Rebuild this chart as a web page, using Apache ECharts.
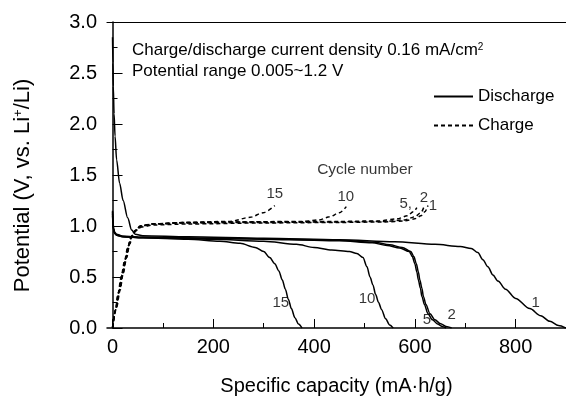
<!DOCTYPE html>
<html>
<head>
<meta charset="utf-8">
<script src="https://cdn.jsdelivr.net/npm/echarts@6/dist/echarts.min.js"></script>
<style>
  html, body { margin: 0; padding: 0; background: #fff; }
  #chart { width: 566px; height: 397px; }
</style>
</head>
<body>
<div id="chart"></div>
<script>
// capacity (mA·h/g), potential (V)
const discharge1 = [[0,2.85],[0.7,2.6],[1.5,2.37],[3,2.1],[5,1.88],[8,1.65],[14,1.42],[21,1.25],[30,1.08],[38,0.96],[45,0.92],[60,0.905],[150,0.895],[300,0.88],[450,0.865],[560,0.845],[640,0.82],[690,0.8],[712,0.78],[725,0.74],[735,0.67],[745,0.6],[755,0.52],[765,0.46],[780,0.38],[800,0.29],[828,0.19],[850,0.12],[868,0.065],[885,0.025],[900,0]];
const discharge2 = [[0,1.15],[1,1.04],[2,0.98],[4,0.94],[8,0.92],[20,0.9],[60,0.89],[200,0.88],[350,0.87],[450,0.86],[520,0.84],[550,0.815],[575,0.79],[592,0.75],[598,0.7],[603,0.63],[607,0.55],[610,0.47],[614,0.39],[617,0.31],[622,0.23],[630,0.14],[640,0.08],[650,0.045],[662,0.015],[673,0]];
const discharge5 = [[0,1.14],[1,1.03],[2,0.97],[4,0.93],[8,0.915],[20,0.9],[60,0.89],[200,0.88],[350,0.865],[450,0.855],[515,0.835],[545,0.81],[570,0.785],[589,0.75],[595,0.7],[600,0.63],[604,0.55],[607,0.47],[611,0.39],[614,0.31],[619,0.23],[626,0.14],[635,0.08],[645,0.04],[654,0.015],[662,0]];
const discharge10 = [[0,1.12],[1,1.02],[2,0.97],[4,0.93],[8,0.91],[20,0.895],[60,0.885],[200,0.87],[300,0.85],[365,0.82],[400,0.79],[435,0.765],[470,0.75],[485,0.73],[497,0.69],[505,0.6],[511,0.5],[517,0.42],[522,0.33],[528,0.25],[534,0.18],[542,0.09],[550,0.03],[557,0]];
const discharge15 = [[0,1.1],[1,1.0],[2,0.96],[4,0.93],[8,0.91],[20,0.895],[60,0.885],[150,0.87],[213,0.85],[253,0.83],[283,0.79],[300,0.75],[312,0.69],[322,0.63],[330,0.56],[337,0.47],[343,0.38],[349,0.28],[355,0.19],[362,0.1],[369,0.04],[376,0]];

const charge1 = [[0,0.01],[8,0.2],[15,0.37],[21,0.53],[28,0.69],[34,0.82],[40,0.91],[48,0.96],[58,0.99],[80,1.01],[150,1.02],[300,1.03],[450,1.035],[540,1.04],[580,1.05],[600,1.07],[612,1.1],[620,1.14],[626,1.2]];
const charge2 = [[0,0],[7,0.19],[14,0.37],[20,0.53],[27,0.69],[33,0.82],[39,0.91],[47,0.96],[58,1.0],[80,1.02],[150,1.03],[300,1.035],[450,1.04],[540,1.045],[580,1.06],[600,1.09],[612,1.13],[619,1.2]];
const charge5 = [[0,0.01],[6,0.18],[13,0.36],[19,0.52],[26,0.68],[32,0.81],[38,0.9],[46,0.96],[56,1.0],[80,1.02],[150,1.035],[300,1.04],[450,1.045],[530,1.05],[565,1.07],[585,1.1],[597,1.14],[604,1.18]];
const charge10 = [[0,0],[6,0.17],[12,0.35],[18,0.51],[25,0.67],[31,0.8],[37,0.89],[45,0.95],[56,1.0],[80,1.02],[150,1.035],[250,1.04],[378,1.045],[410,1.06],[431,1.09],[450,1.13],[464,1.19]];
const charge15 = [[0,0],[5,0.16],[11,0.34],[17,0.5],[24,0.66],[30,0.79],[36,0.88],[44,0.95],[55,1.0],[80,1.02],[150,1.035],[233,1.045],[273,1.085],[299,1.13],[322,1.2]];

// cycle number labels placed at data coordinates
const chargeLabels = [[322,1.32,'15'],[463,1.29,'10'],[582,1.22,'5,'],[618,1.28,'2'],[636,1.2,'1']];
const dischargeLabels = [[334,0.245,'15'],[505,0.29,'10'],[624,0.08,'5'],[673,0.13,'2'],[840,0.245,'1']];
const cycleTitle = [501,1.55,'Cycle number'];

const xTicks = [0,200,400,600,800];
const xMinorTicks = [100,300,500,700];

const FONT = '"Liberation Sans", Arial, sans-serif';
const chart = echarts.init(document.getElementById('chart'));

const lineSeries = (name, data, dashed) => ({
  name,
  type: 'line',
  data,
  symbol: 'none',
  smooth: 0.3,
  smoothMonotone: 'x',
  lineStyle: { color: '#000', width: 1.5, type: dashed ? [4, 3] : 'solid' },
  itemStyle: { color: '#000' },
  z: 3
});

const labelData = chargeLabels.concat(dischargeLabels).map(d => ({ value: [d[0], d[1]], name: d[2] }));
labelData.push({ value: [cycleTitle[0], cycleTitle[1]], name: cycleTitle[2], label: { fontSize: 15.5 } });

chart.setOption({
  animation: false,
  textStyle: { fontFamily: FONT },
  grid: [
    { left: 107, right: 0, top: 22, bottom: 69, outerBoundsMode: 'none', containLabel: false },
    { left: 107, right: 0, top: 22, bottom: 69, outerBoundsMode: 'none', containLabel: false }
  ],
  legend: {
    data: ['Discharge', 'Charge'],
    orient: 'vertical',
    left: 428,
    top: 83,
    itemWidth: 39,
    itemHeight: 16,
    itemGap: 12,
    itemStyle: { color: 'rgba(0,0,0,0)', borderWidth: 0, opacity: 0 },
    textStyle: { fontSize: 17, color: '#000', fontFamily: FONT }
  },
  xAxis: [
    {
      type: 'value', gridIndex: 0, min: -11, max: 900,
      name: 'Specific capacity (mA\u00b7h/g)',
      nameLocation: 'middle', nameGap: 48,
      nameTextStyle: { fontSize: 20, color: '#000', fontFamily: FONT },
      axisLine: { show: true, lineStyle: { color: '#000', width: 1.5 } },
      axisTick: { show: true, inside: true, length: 9, customValues: xTicks, lineStyle: { color: '#000', width: 1 } },
      axisLabel: { customValues: xTicks, fontSize: 20, color: '#000', margin: 9, fontFamily: FONT },
      splitLine: { show: false }
    },
    {
      type: 'value', gridIndex: 0, position: 'top', min: -11, max: 900,
      axisLine: { show: true, lineStyle: { color: '#000', width: 1.2 } },
      axisTick: { show: false }, axisLabel: { show: false }, splitLine: { show: false }
    },
    {
      type: 'value', gridIndex: 1, min: -11, max: 900,
      axisLine: { show: false },
      axisTick: { show: true, inside: true, length: 5, customValues: xMinorTicks, lineStyle: { color: '#000', width: 1 } },
      axisLabel: { show: false }, splitLine: { show: false }
    }
  ],
  yAxis: [
    {
      type: 'value', gridIndex: 0, min: 0, max: 3, interval: 0.5,
      axisLine: { show: true, lineStyle: { color: '#000', width: 1.5 } },
      axisTick: { show: true, inside: true, length: 10, lineStyle: { color: '#000', width: 1 } },
      minorTick: { show: true, splitNumber: 2, length: 5, lineStyle: { color: '#000', width: 1 } },
      axisLabel: { fontSize: 20, color: '#000', margin: 10, fontFamily: FONT, formatter: v => v.toFixed(1) },
      splitLine: { show: false }
    },
    {
      type: 'value', gridIndex: 1, min: 0, max: 3, show: false
    }
  ],
  graphic: [
    {
      type: 'text', x: 22.5, y: 185.5, rotation: Math.PI / 2,
      style: {
        text: 'Potential (V, vs. Li{sup|+}/Li)',
        font: '22px ' + FONT, fill: '#000',
        align: 'center', verticalAlign: 'middle',
        rich: { sup: { fontSize: 13, fontFamily: FONT, verticalAlign: 'top', fill: '#000' } }
      }
    },
    {
      type: 'text', x: 132, y: 50.5,
      style: {
        text: 'Charge/discharge current density 0.16 mA/cm{sup|2}',
        font: '17px ' + FONT, fill: '#000', verticalAlign: 'middle',
        rich: { sup: { fontSize: 10, fontFamily: FONT, verticalAlign: 'top', fill: '#000' } }
      }
    },
    {
      type: 'text', x: 132, y: 71.5,
      style: { text: 'Potential range 0.005~1.2 V', font: '17px ' + FONT, fill: '#000', verticalAlign: 'middle' }
    }
  ],
  series: [
    lineSeries('Discharge', discharge1, false),
    lineSeries('Discharge', discharge2, false),
    lineSeries('Discharge', discharge5, false),
    lineSeries('Discharge', discharge10, false),
    lineSeries('Discharge', discharge15, false),
    lineSeries('Charge', charge1, true),
    lineSeries('Charge', charge2, true),
    lineSeries('Charge', charge5, true),
    lineSeries('Charge', charge10, true),
    lineSeries('Charge', charge15, true),
    {
      name: 'labels',
      type: 'scatter',
      symbolSize: 0,
      data: labelData,
      label: { show: true, position: 'inside', formatter: '{b}', fontSize: 15, color: '#000', fontFamily: FONT },
      z: 4
    }
  ]
});
</script>
</body>
</html>
